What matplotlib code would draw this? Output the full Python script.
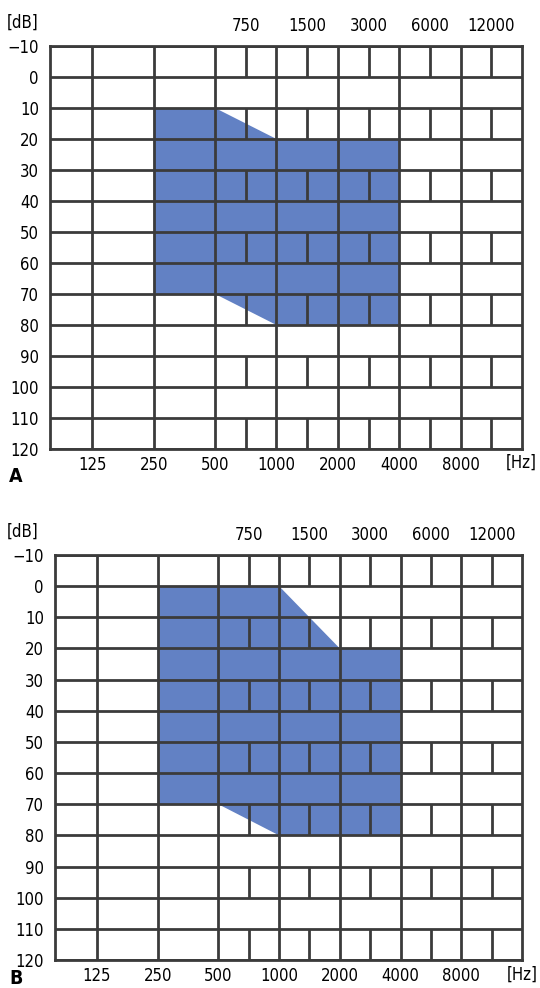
import numpy as np
import matplotlib
matplotlib.use("Agg")
import matplotlib.pyplot as plt

plt.rcParams['font.family'] = ['DejaVu Sans']
plt.rcParams['font.stretch'] = 'condensed'

# Data
db_levels = [-10, 0, 10, 20, 30, 40, 50, 60, 70, 80, 90, 100, 110, 120]
db_labels = ["\u221210", "0", "10", "20", "30", "40", "50", "60", "70", "80",
             "90", "100", "110", "120"]
octave_freqs = [125, 250, 500, 1000, 2000, 4000, 8000]
half_freqs = [750, 1500, 3000, 6000, 12000]
edge_freqs = [16000]

# hearing range polygons (frequency, dB)
freq_a = [250, 500, 1000, 4000, 4000, 1000, 500, 250]
db_a = [10, 10, 20, 20, 80, 80, 70, 70]
freq_b = [250, 1000, 2000, 4000, 4000, 1000, 500, 250]
db_b = [0, 0, 20, 20, 80, 80, 70, 70]


def xpos(f):
    # audiogram convention: octaves evenly spaced, half-octaves midway
    return np.round(2 * np.log2(np.asarray(f, dtype=float) / 125)) / 2


LINE = "#3b3b3b"
FILL = "#6281c4"
FS = 12

fig = plt.figure(figsize=(5.4, 9.88), dpi=100)


def audiogram(rect, freqs, dbs, top_px):
    ax = fig.add_axes(rect)
    ax.fill(xpos(freqs), dbs, color=FILL, lw=0, zorder=1)

    xmin, xmax = -0.69, xpos(edge_freqs)[0]
    ax.set_xlim(xmin, xmax)
    ax.set_ylim(120, -10)

    # horizontal lines
    ax.hlines(db_levels, xmin, xmax, color=LINE, lw=2, zorder=2)
    # octave lines full height
    ax.vlines(xpos(octave_freqs), -10, 120, color=LINE, lw=2, zorder=2)
    # half-octave lines in every other row (brick pattern)
    for top in db_levels[:-1:2]:
        ax.vlines(xpos(half_freqs), top, top + 10, color=LINE, lw=2, zorder=2)

    for s in ax.spines.values():
        s.set_color(LINE)
        s.set_linewidth(2)
        s.set_zorder(3)

    ax.set_yticks(db_levels, db_labels, fontsize=FS)
    ax.set_xticks(xpos(octave_freqs), [str(f) for f in octave_freqs], fontsize=FS)
    ax.tick_params(length=0)
    ax.tick_params(axis="y", pad=8)
    ax.tick_params(axis="x", pad=5)

    sec = ax.secondary_xaxis("top")
    sec.set_xticks(xpos(half_freqs), [str(f) for f in half_freqs], fontsize=FS)
    sec.tick_params(length=0, pad=8)
    for s in sec.spines.values():
        s.set_visible(False)

    fig.text(38 / 540, 1 - (top_px - 23) / 988, "[dB]", ha="right", va="center", fontsize=FS)
    return ax


ax_a = audiogram([50 / 540, 1 - 449 / 988, 472 / 540, 403 / 988], freq_a, db_a, 46)
fig.text(537 / 540, 1 - 463 / 988, "[Hz]", ha="right", va="center", fontsize=FS)
fig.text(16 / 540, 1 - 477 / 988, "A", ha="center", va="center", fontsize=14, fontweight="bold")

ax_b = audiogram([55 / 540, 1 - 960 / 988, 467 / 540, 405 / 988], freq_b, db_b, 555)
fig.text(538 / 540, 1 - 975 / 988, "[Hz]", ha="right", va="center", fontsize=FS)
fig.text(16 / 540, 1 - 978 / 988, "B", ha="center", va="center", fontsize=14, fontweight="bold")

fig.savefig("out.png", dpi=100, facecolor="white")
